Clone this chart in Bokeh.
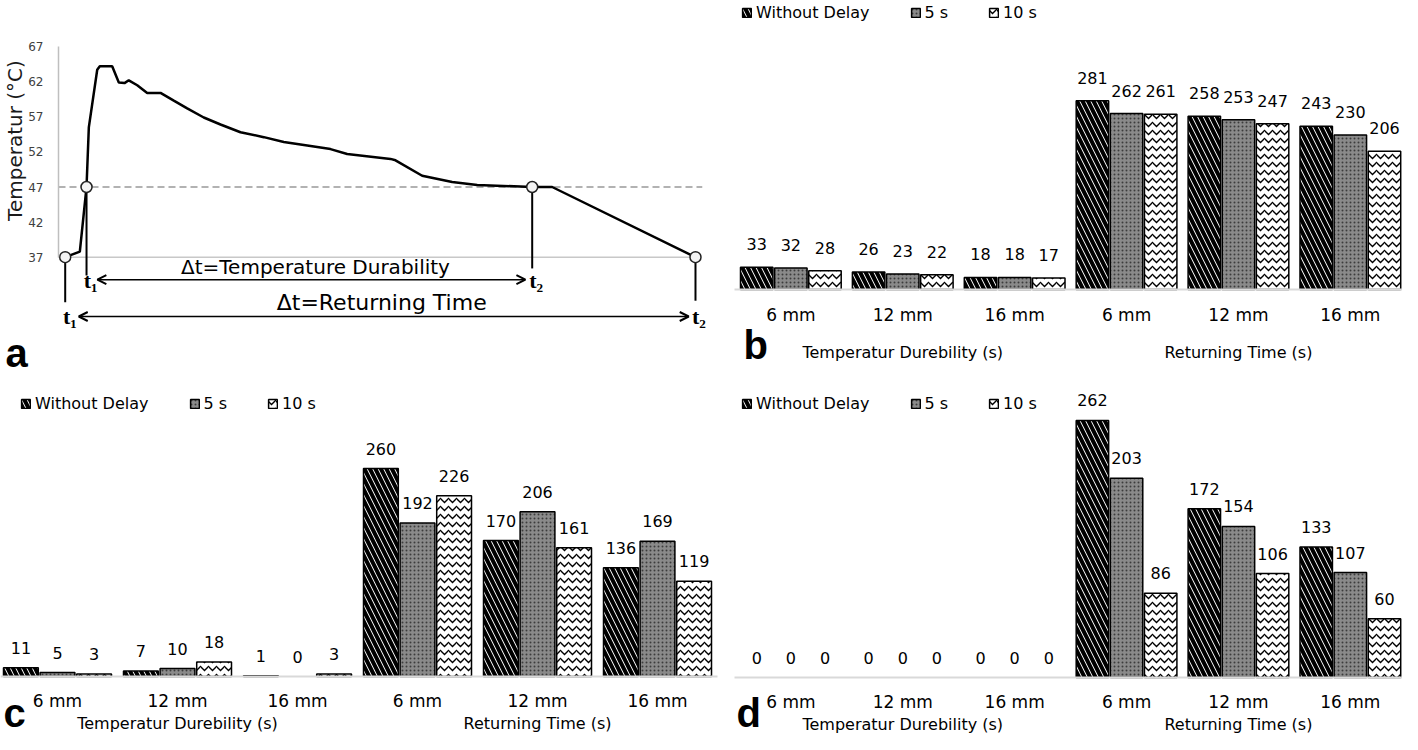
import math
from bokeh.plotting import figure
from bokeh.models import (Range1d, FixedTicker, LinearAxis, Legend, LegendItem,
                          Label, Arrow, OpenHead, ColumnDataSource)
from bokeh.embed import file_html
from bokeh.resources import INLINE
from bokeh.core.properties import value

# ---------------- Panel a data (temperature curve) ----------------
time_s = [0.99, 3.15, 4.14, 4.48, 5.72, 6.10, 7.93, 8.91, 9.75, 10.38,
          11.63, 13.10, 15.07, 17.03, 19.01, 21.46, 23.93, 26.88, 30.33, 33.28,
          36.74, 40.18, 42.64, 49.04, 49.78, 53.72, 58.15, 61.85, 69.97, 72.92,
          94.09]
temp_c = [37.0, 37.8, 47.0, 55.5, 63.7, 64.2, 64.2, 61.9, 61.8, 62.2,
          61.5, 60.4, 60.4, 59.3, 58.2, 56.9, 55.9, 54.8, 54.1, 53.4,
          52.9, 52.4, 51.7, 51.0, 50.8, 48.6, 47.7, 47.3, 47.0, 47.0,
          37.0]
base_temp = 37
threshold_temp = 47
t1_rt, t1_td, t2_td, t2_rt = 0.99, 4.14, 69.97, 94.09
temp_ticks = [37, 42, 47, 52, 57, 62, 67]

# ---------------- Bar panels data ----------------
sizes = ["6 mm", "12 mm", "16 mm", "6 mm", "12 mm", "16 mm"]
measures = ["Temperatur Durebility (s)", "Returning Time (s)"]
series = ["Without Delay", "5 s", "10 s"]

b_without = [33, 26, 18, 281, 258, 243]
b_5s = [32, 23, 18, 262, 253, 230]
b_10s = [28, 22, 17, 261, 247, 206]

c_without = [11, 7, 1, 260, 170, 136]
c_5s = [5, 10, 0, 192, 206, 169]
c_10s = [3, 18, 3, 226, 161, 119]

d_without = [0, 0, 0, 262, 172, 133]
d_5s = [0, 0, 0, 203, 154, 107]
d_10s = [0, 0, 0, 86, 106, 60]

FONT = "DejaVu Sans"
W, H = 1402, 734      # canvas size


def xr(v0, px0, s):
    """x-range so that value v0 sits at canvas x px0, s px per unit"""
    return Range1d(v0 - px0 / s, v0 + (W - px0) / s)


def yr(v0, py0, s):
    """y-range so that value v0 sits at canvas y py0 (from top), s px per unit"""
    return Range1d(v0 - (H - py0) / s, v0 + py0 / s)


p = figure(width=W, height=H, x_range=Range1d(0, W), y_range=Range1d(0, H),
           output_backend="svg", toolbar_location=None,
           x_axis_location=None, y_axis_location=None,
           min_border_left=0, min_border_right=0, min_border_top=0, min_border_bottom=0)
p.background_fill_color = "white"
p.border_fill_color = "white"
p.outline_line_color = None
p.xgrid.visible = False
p.ygrid.visible = False

p.extra_x_ranges = {"ax": xr(0, 58, 6.77), "bx": xr(0, 734.4, 111.9),
                    "cx": xr(0, -3, 120), "dx": xr(0, 734.4, 111.9)}
p.extra_y_ranges = {"ay": yr(37, 256.7, 7.02), "by": yr(0, 289, 0.6714),
                    "cy": yr(0, 676, 0.80), "dy": yr(0, 677, 0.981)}

A = dict(x_range_name="ax", y_range_name="ay")


def canvas_label(txt, px, py, **kw):
    """text placed at canvas pixel (px, py from top) via the default ranges"""
    p.add_layout(Label(x=px, y=H - py, text=txt, **kw))


# ---------------- Panel a ----------------
ya = LinearAxis(fixed_location=0, bounds=(temp_ticks[0], temp_ticks[-1]),
                ticker=FixedTicker(ticks=temp_ticks),
                axis_line_color="#bfbfbf", axis_line_width=1.5,
                major_tick_line_color=None, minor_tick_line_color=None,
                major_tick_out=0, minor_tick_out=0,
                major_label_text_font=FONT, major_label_text_font_size="12px",
                major_label_text_color="#404040", major_label_standoff=15, **A)
p.add_layout(ya, "left")
canvas_label("Temperatur (°C)", 14, 140, angle=math.pi / 2, text_font=FONT,
             text_font_size="20px", text_align="center", text_baseline="middle",
             text_color="#1a1a1a")

p.line([0, t2_rt], [base_temp, base_temp], line_color="#c8c8c8", line_width=1.5, **A)
p.line([0, t2_rt + 1.0], [threshold_temp, threshold_temp], line_color="#999999",
       line_width=1.5, line_dash="7 4", **A)
p.line(time_s, temp_c, line_color="black", line_width=2.5, **A)

p.segment(x0=[t1_rt, t1_td, t2_td, t2_rt], y0=[base_temp, threshold_temp, threshold_temp, base_temp],
          x1=[t1_rt, t1_td, t2_td, t2_rt],
          y1=[base_temp - 6.4, base_temp - 2.6, base_temp - 1.6, base_temp - 6.2],
          line_color="black", line_width=2, **A)
p.scatter([t1_rt, t1_td, t2_td, t2_rt], [base_temp, threshold_temp, threshold_temp, base_temp],
          size=11, fill_color="#f4f4f4", line_color="#222222", line_width=1.5, **A)

y_td = base_temp - 3.2
y_rt = base_temp - 8.45
p.add_layout(Arrow(x_start=t1_td + 1.6, y_start=y_td, x_end=t2_td - 1.0, y_end=y_td,
                   start=OpenHead(size=9, line_width=2), end=OpenHead(size=9, line_width=2),
                   line_width=1.5, **A))
p.add_layout(Arrow(x_start=t1_rt + 2.0, y_start=y_rt, x_end=t2_rt - 1.0, y_end=y_rt,
                   start=OpenHead(size=9, line_width=2), end=OpenHead(size=9, line_width=2),
                   line_width=1.5, **A))
p.add_layout(Label(x=(t1_td + t2_td) / 2 + 0.9, y=y_td + 0.1, text="Δt=Temperature Durability",
                   text_font=FONT, text_font_size="20px", text_align="center",
                   text_baseline="bottom", text_color="black", **A))
p.add_layout(Label(x=(t1_rt + t2_rt) / 2 + 0.2, y=y_rt + 0.2, text="Δt=Returning Time",
                   text_font=FONT, text_font_size="22px", text_align="center",
                   text_baseline="bottom", text_color="black", **A))
for tx, ty, tt in [(t1_td + 0.6, y_td - 0.1, "t₁"), (t1_rt + 0.7, y_rt, "t₁"),
                   (t2_td + 0.6, y_td - 0.1, "t₂"), (t2_rt + 0.5, y_rt, "t₂")]:
    p.add_layout(Label(x=tx, y=ty, text=tt, text_font="Liberation Serif",
                       text_font_size="22px", text_font_style="bold",
                       text_align="center", text_baseline="middle", text_color="black", **A))


def letter(txt, px, py_center):
    canvas_label(txt, px, py_center, text_font="Liberation Sans", text_font_size="40px",
                 text_font_style="bold", text_baseline="middle", text_color="black")


letter("a", 5, 352)


# ---------------- Bar panels ----------------
def bar_panel(key, groups, label_off, std1, std2, legend_top_left):
    R = dict(x_range_name=key + "x", y_range_name=key + "y")
    centers = [i + 0.5 for i in range(len(sizes))]
    ax = LinearAxis(fixed_location=0, bounds=(0, len(sizes)), ticker=FixedTicker(ticks=centers),
                    major_label_overrides={c: s for c, s in zip(centers, sizes)},
                    axis_line_color="#d9d9d9", axis_line_width=2,
                    major_tick_line_color=None, minor_tick_line_color=None,
                    major_tick_out=0, minor_tick_out=0,
                    major_label_text_font=FONT, major_label_text_font_size="17px",
                    major_label_text_color="black", major_label_standoff=std1, **R)
    p.add_layout(ax, "below")
    gcenters = [1.5, 4.5]
    ax2 = LinearAxis(fixed_location=0, bounds=(0, len(sizes)), ticker=FixedTicker(ticks=gcenters),
                     major_label_overrides={c: s for c, s in zip(gcenters, measures)},
                     axis_line_alpha=0, major_tick_line_color=None, minor_tick_line_color=None,
                     major_tick_out=0, minor_tick_out=0,
                     major_label_text_font=FONT, major_label_text_font_size="16px",
                     major_label_text_color="black", major_label_standoff=std2, **R)
    p.add_layout(ax2, "below")

    styles = [
        dict(fill_color="white", hatch_pattern="\\", hatch_scale=11, hatch_weight=4, hatch_color="black"),
        dict(fill_color="#8a8a8a", hatch_pattern=".", hatch_scale=4, hatch_weight=1.2, hatch_color="#3c3c3c"),
        dict(fill_color="white", hatch_pattern="v", hatch_scale=8, hatch_weight=1.3, hatch_color="black"),
    ]
    offsets = [-0.305, 0.0, 0.305]
    items = []
    for name, vals, st, off in zip(series, groups, styles, offsets):
        xs = [c + off for c in centers]
        src = ColumnDataSource(dict(x=xs, top=vals, lab=[str(v) for v in vals],
                                    la=[1.0 if v > 0 else 0.0 for v in vals]))
        r = p.vbar(x="x", top="top", width=0.29, source=src, line_color="black",
                   line_width=1.5, line_alpha="la", **st, **R)
        p.text(x="x", y="top", text="lab", source=src, text_align="center", text_baseline="middle",
               y_offset=-label_off, text_font=value(FONT), text_font_size="16px",
               text_color="black", **R)
        items.append(LegendItem(label=name, renderers=[r], index=3))
    lx, ly = legend_top_left
    leg = Legend(items=items, location=(lx, H - ly - 19), orientation="horizontal",
                 glyph_width=11, glyph_height=11, label_standoff=4, spacing=40,
                 padding=0, margin=0, border_line_alpha=0, background_fill_alpha=0,
                 label_text_font=FONT, label_text_font_size="16px", label_text_color="black")
    p.add_layout(leg)


bar_panel("b", [b_without, b_5s, b_10s], 23, 15, 53, (741, 3))
bar_panel("c", [c_without, c_5s, c_10s], 20, 14, 37, (20, 394))
bar_panel("d", [d_without, d_5s, d_10s], 20, 14, 37, (741, 394))
letter("b", 743, 344)
letter("c", 3, 712)
letter("d", 736, 712)

open("out.html", "w").write(file_html(p, INLINE))
